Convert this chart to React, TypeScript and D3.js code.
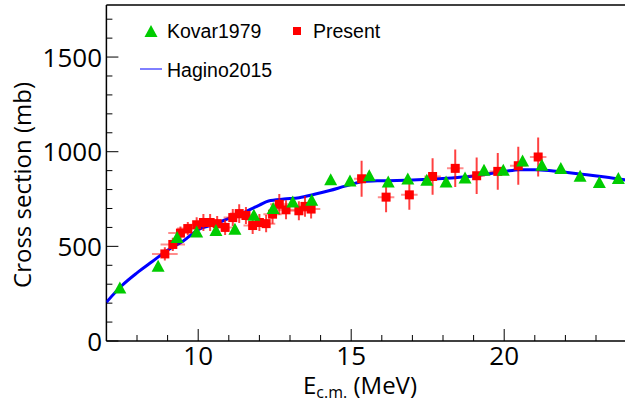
import React from "react";
import * as d3 from "d3";

// Kovar1979 data (E_cm MeV, sigma mb)
const kovarE = [7.44, 8.69, 9.31, 9.95, 10.58, 11.2, 11.82, 12.45, 13.09, 13.71, 14.33, 14.96, 15.59, 16.21, 16.85, 17.47, 18.1, 18.72, 19.34, 19.97, 20.6, 21.23, 21.85, 22.48, 23.11, 23.73];
const kovarS = [282, 397, 550, 579, 587, 593, 667, 702, 737, 746, 854, 848, 875, 843, 859, 852, 843, 864, 905, 905, 954, 931, 914, 873, 840, 861];

// Present data
const presE = [8.91, 9.17, 9.42, 9.66, 9.95, 10.17, 10.39, 10.62, 10.88, 11.13, 11.34, 11.56, 11.78, 12.0, 12.22, 12.43, 12.65, 12.87, 13.29, 13.49, 13.69, 15.34, 16.14, 16.9, 17.66, 18.4, 19.1, 19.79, 20.46, 21.11];
const presS = [460, 510, 570, 594, 614, 626, 626, 620, 600, 652, 673, 663, 610, 626, 620, 670, 722, 693, 688, 711, 697, 857, 760, 772, 869, 912, 873, 896, 926, 972];
const presDE = [0.42, 0.4, 0.4, 0.35, 0.3, 0.3, 0.3, 0.3, 0.3, 0.3, 0.3, 0.3, 0.3, 0.3, 0.3, 0.3, 0.3, 0.3, 0.3, 0.3, 0.3, 0.25, 0.27, 0.27, 0.27, 0.27, 0.27, 0.27, 0.27, 0.27];
const presDS = [35, 35, 35, 35, 40, 45, 45, 40, 40, 45, 50, 45, 45, 45, 45, 50, 55, 50, 50, 55, 50, 95, 80, 78, 97, 99, 97, 97, 100, 103];

// Hagino2015 calculation
const hagE = [7.0, 7.5, 8.0, 8.5, 9.0, 9.5, 10.0, 10.5, 11.0, 11.5, 12.0, 12.3, 12.8, 13.3, 13.8, 14.3, 14.8, 15.4, 16.0, 17.0, 18.0, 19.0, 20.0, 20.5, 21.0, 21.6, 22.2, 22.7, 23.3, 24.0];
const hagS = [205, 292, 360, 420, 480, 527, 588, 615, 648, 680, 718, 740, 750, 757, 775, 795, 818, 843, 847, 850, 858, 872, 895, 905, 905, 898, 888, 878, 866, 850];

const xTicksMajor = [10, 15, 20];
const yTicksMajor = [0, 500, 1000, 1500];

export default function App() {
  const W = 625, H = 407;
  const left = 106.4, right = 626.6, top = 5, bottom = 341;
  const x = d3.scaleLinear().domain([7, 24]).range([left, right]);
  const y = d3.scaleLinear().domain([0, 1775]).range([bottom, top]);
  const line = d3.line<number>().x((_, i) => x(hagE[i])).y((_, i) => y(hagS[i])).curve(d3.curveMonotoneX);
  const xMinor = d3.range(8, 25, 1).filter(v => v % 5 !== 0);
  const yMinor = d3.range(100, 1776, 100).filter(v => v % 500 !== 0);
  const tickFont = "'Open Sans', sans-serif";
  const legFont = "'Liberation Sans', Arial, sans-serif";
  const tri = (cx: number, cy: number, w = 13, h = 12) =>
    `M${cx - w / 2},${cy + h / 2}L${cx + w / 2},${cy + h / 2}L${cx},${cy - h / 2}Z`;
  const sq = 9;
  return (
    <svg width={W} height={H} style={{ position: "absolute", left: 0, top: 0, background: "#fff" }}>
      {/* frame */}
      <line x1={left} x2={W} y1={top} y2={top} stroke="#000" strokeWidth={1.5} />
      <line x1={left} x2={left} y1={top} y2={bottom} stroke="#000" strokeWidth={1.5} />
      <line x1={left} x2={W} y1={bottom} y2={bottom} stroke="#000" strokeWidth={1.5} />
      {/* x ticks */}
      {xTicksMajor.map(v => (
        <g key={"xM" + v}>
          <line x1={x(v)} x2={x(v)} y1={bottom} y2={bottom - 12} stroke="#000" strokeWidth={1} />
          <text x={x(v)} y={365} fontFamily={tickFont} fontSize={26} textAnchor="middle">{v}</text>
        </g>
      ))}
      {xMinor.map(v => (
        <line key={"xm" + v} x1={x(v)} x2={x(v)} y1={bottom} y2={bottom - 6} stroke="#000" strokeWidth={1} />
      ))}
      {/* y ticks */}
      {yTicksMajor.map(v => (
        <g key={"yM" + v}>
          <line x1={left} x2={left + 12} y1={y(v)} y2={y(v)} stroke="#000" strokeWidth={1} />
          <text x={102} y={y(v) + 9.5} fontFamily={tickFont} fontSize={26} textAnchor="end">{v}</text>
        </g>
      ))}
      {yMinor.map(v => (
        <line key={"ym" + v} x1={left} x2={left + 6} y1={y(v)} y2={y(v)} stroke="#000" strokeWidth={1} />
      ))}
      {/* axis titles */}
      <text transform={`translate(31,185) rotate(-90)`} fontFamily={tickFont} fontSize={24} textAnchor="middle">Cross section (mb)</text>
      <text x={303} y={394} fontFamily={tickFont} fontSize={24}>
        E<tspan fontSize={16} dy={4}>c.m.</tspan><tspan dy={-4}> (MeV)</tspan>
      </text>
      <defs>
        <clipPath id="plot"><rect x={left} y={top} width={W - left} height={bottom - top} /></clipPath>
      </defs>
      <g clipPath="url(#plot)">
        <path d={line(hagE) || ""} fill="none" stroke="#0000ff" strokeWidth={3} />
        {presE.map((e, i) => (
          <g key={"p" + i}>
            <line x1={x(e - presDE[i])} x2={x(e + presDE[i])} y1={y(presS[i])} y2={y(presS[i])} stroke="rgba(255,0,0,0.45)" strokeWidth={2} />
            <line x1={x(e)} x2={x(e)} y1={y(presS[i] - presDS[i])} y2={y(presS[i] + presDS[i])} stroke="rgba(255,0,0,0.75)" strokeWidth={2} />
            <rect x={x(e) - sq / 2} y={y(presS[i]) - sq / 2} width={sq} height={sq} fill="#ff0000" />
          </g>
        ))}
        {kovarE.map((e, i) => (
          <path key={"k" + i} d={tri(x(e), y(kovarS[i]))} fill="#00cc00" />
        ))}
      </g>
      {/* legend */}
      <path d={tri(151, 31, 13, 12)} fill="#00cc00" />
      <text x={167} y={38} fontFamily={legFont} fontSize={19.5}>Kovar1979</text>
      <rect x={297 - 4} y={31 - 4} width={8} height={8} fill="#ff0000" />
      <text x={313} y={38} fontFamily={legFont} fontSize={19.5}>Present</text>
      <line x1={140} x2={162} y1={69} y2={69} stroke="#0000ff" strokeWidth={1} />
      <text x={167} y={77} fontFamily={legFont} fontSize={19.5}>Hagino2015</text>
    </svg>
  );
}
